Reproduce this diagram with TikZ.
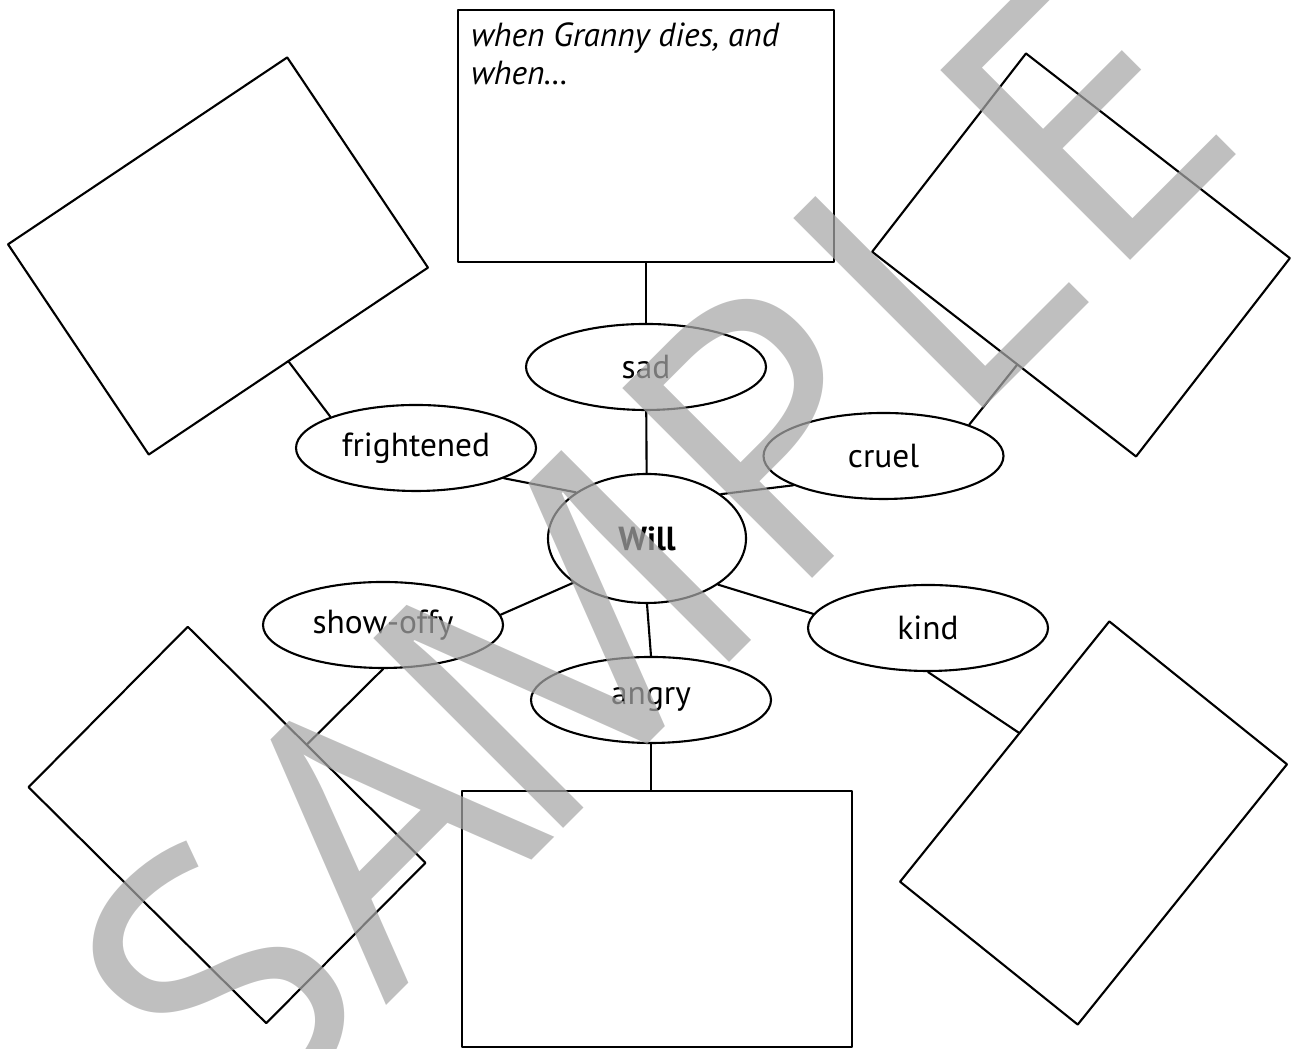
\documentclass[tikz,border=0pt]{standalone}
\usepackage{fontspec}
\setmainfont{PT Sans}
\newfontfamily\markfont{Open Sans}
\usetikzlibrary{shapes.geometric,calc}

\begin{document}
\begin{tikzpicture}[font=\fontsize{9.5}{10.5}\selectfont, line join=round, line cap=round, line width=0.6pt,
	bubble/.style={draw, ellipse, inner sep=0pt, minimum width=2.4cm, minimum height=0.86cm},
	card/.style={draw, rectangle, inner sep=0pt}]
	\useasboundingbox (0,0) rectangle (12.91,10.49);
	% cards
	\node[card, minimum width=3.76cm, minimum height=2.52cm] (topcard) at (6.46,9.13) {};
	\node[anchor=north west, align=left, inner sep=0pt, font=\fontsize{9.5}{10.6}\selectfont\itshape] (topnote) at ($(topcard.north west)+(0.13,-0.13)$) {when Granny dies, and\\when\dots};
	\node[card, minimum width=3.36cm, minimum height=2.53cm, rotate=33.8] (tlcard) at (2.18,7.93) {};
	\node[card, minimum width=3.34cm, minimum height=2.51cm, rotate=-37.8] (trcard) at (10.81,7.94) {};
	\node[card, minimum width=3.35cm, minimum height=2.26cm, rotate=-44.8] (blcard) at (2.27,2.24) {};
	\node[card, minimum width=3.34cm, minimum height=2.28cm, rotate=51.2] (brcard) at (10.935,2.26) {};
	\node[card, minimum width=3.9cm, minimum height=2.56cm] (botcard) at (6.57,1.30) {};
	% bubbles
	\node[bubble, minimum width=1.98cm, minimum height=1.29cm, font=\fontsize{9.5}{10.5}\selectfont\bfseries] (will) at (6.47,5.105) {Will};
	\node[bubble] (sad) at (6.46,6.82) {sad};
	\node[bubble] (fright) at (4.16,6.01) {frightened};
	\node[bubble] (cruel) at (8.835,5.93) {cruel};
	\node[bubble] (show) at (3.83,4.24) {show-offy};
	\node[bubble] (kind) at (9.28,4.21) {kind};
	\node[bubble] (angry) at (6.51,3.49) {angry};
	% links
	\draw (topcard) -- (sad);
	\draw (sad) -- (will);
	\draw (will.south) -- (angry.north);
	\draw (angry.south) -- (angry.south |- botcard.north);
	\draw (fright.341) -- (will.147);
	\draw (will.31) -- (cruel.198);
	\draw (will.211) -- (show.5);
	\draw (will.327) -- (kind.173);
	\draw (fright.160) -- (tlcard.south);
	\draw (cruel.20) -- ($(trcard.south west)!0.55!(trcard.south east)$);
	\draw (show.south) -- (blcard.north);
	\draw (kind.south) -- ($(brcard.north west)!0.57!(brcard.north east)$);
	% watermark
	\node[font=\markfont\fontsize{107}{107}\selectfont, text=black!34.5, text opacity=0.72, rotate=45] (mark) at (6.516,4.99) {SA\kern-7pt M\kern4pt P\kern4pt L\kern4pt E};
\end{tikzpicture}
\end{document}
